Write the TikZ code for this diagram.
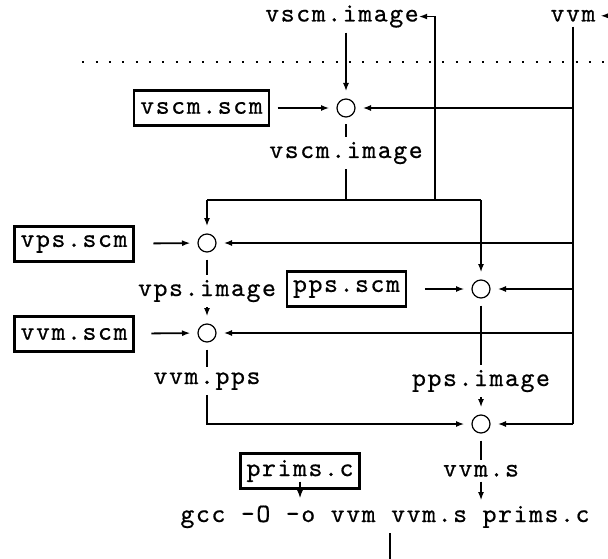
\documentclass[tikz,border=0pt]{standalone}
\usepackage{fontspec}
\newfontfamily\codefont[Extension=.otf,LetterSpace=6,FakeBold=0.6]{lmmono10-regular}
\usetikzlibrary{arrows.meta}

\begin{document}
\begin{tikzpicture}[x=1pt,y=-1pt,
  txt/.style={font=\codefont\fontsize{26.5}{31}\selectfont, inner sep=3pt, outer sep=2pt},
  file/.style={txt, draw, line width=2.2pt, minimum height=35pt, inner xsep=6pt, outer sep=0pt},
  mergept/.style={circle, draw, line width=1.2pt, minimum size=18pt, inner sep=0pt, outer sep=7.5pt},
  wire/.style={line width=1.8pt},
  flow/.style={wire, -{Latex[length=8.5pt,width=6pt]}},
  busline/.style={line width=2.5pt}]

\clip (0,0) rectangle (608,559);

% dotted separator
\draw[line width=2pt, dash pattern=on 2pt off 11.33pt] (82.3,62.3) -- (620,62.3);

% texts and boxes
\node[txt, anchor=base, inner xsep=0pt] (img0) at (342,21.5) {vscm.image};
\node[txt, anchor=base] (vvm) at (573,21.5) {vvm};
\node[mergept] (c1) at (346,108) {};
\node[file] (vscmscm) at (201.5,108) {vscm.scm};
\node[txt, anchor=base] (img1) at (346,158) {vscm.image};
\node[mergept] (c2) at (207,243) {};
\node[file] (vpsscm) at (74,244) {vps.scm};
\node[txt, anchor=base] (vpsimg) at (207,296) {vps.image};
\node[mergept] (c3) at (481,289) {};
\node[file] (ppsscm) at (346.5,289) {pps.scm};
\node[mergept] (c4) at (207,333) {};
\node[file] (vvmscm) at (74,334) {vvm.scm};
\node[txt, anchor=base] (vvmpps) at (207,384) {vvm.pps};
\node[txt, anchor=base] (ppsimg) at (481,386) {pps.image};
\node[mergept] (c5) at (481,424) {};
\node[txt, anchor=base] (vvms) at (481,476.5) {vvm.s};
\node[file] (prims) at (300,471) {prims.c};
\node[txt, anchor=base] (gcc) at (385,522) {gcc -O -o vvm vvm.s prims.c};

% helper points
\coordinate (edge) at (640,0);
\coordinate (bl) at (207,200);
\coordinate (bm) at (346,200);
\coordinate (bt) at (435,200);
\coordinate (br) at (481,200);
\coordinate (vb) at (573,424);
\coordinate (out) at (390,575);

% vvm input and its feed line
\draw[flow] (vvm.east -| edge) -- (vvm.east);
\draw[wire] (vvm) -- (vb);
\draw[flow] (c1 -| vb) -- (c1);
\draw[flow] (c2 -| vb) -- (c2);
\draw[flow] (c3 -| vb) -- (c3);
\draw[flow] (c4 -| vb) -- (c4);
\draw[flow] (vb) -- (c5);

% vscm stage
\draw[flow] (c1 |- img0.south) -- (c1);
\draw[flow, shorten <=9pt] (vscmscm) -- (c1);
\draw[wire] (c1) -- (img1);
\draw[wire] (img1) -- (bm);
\draw[busline] (bl) -- (br);
\draw[flow, shorten >=-2pt] (bt) |- (img0.east);
\draw[flow] (bl) -- (c2);
\draw[flow] (br) -- (c3);

% vps / vvm stages
\draw[flow, shorten <=20pt] (vpsscm) -- (c2);
\draw[wire] (c2) -- (vpsimg);
\draw[flow] (vpsimg) -- (c4);
\draw[flow, shorten <=18pt] (vvmscm) -- (c4);
\draw[wire] (c4) -- (vvmpps);
\draw[flow] (vvmpps) |- (c5);

% pps stage
\draw[flow, shorten <=19pt] (ppsscm) -- (c3);
\draw[wire] (c3) -- (ppsimg);
\draw[flow] (ppsimg) -- (c5);

% final link
\draw[wire] (c5) -- (vvms);
\draw[flow] (vvms) -- (vvms |- gcc.north);
\draw[flow, shorten <=-7pt, shorten >=2pt] (prims.south) -- (prims.south |- gcc.north);
\draw[wire] (gcc.south -| out) -- (out);
\end{tikzpicture}
\end{document}
